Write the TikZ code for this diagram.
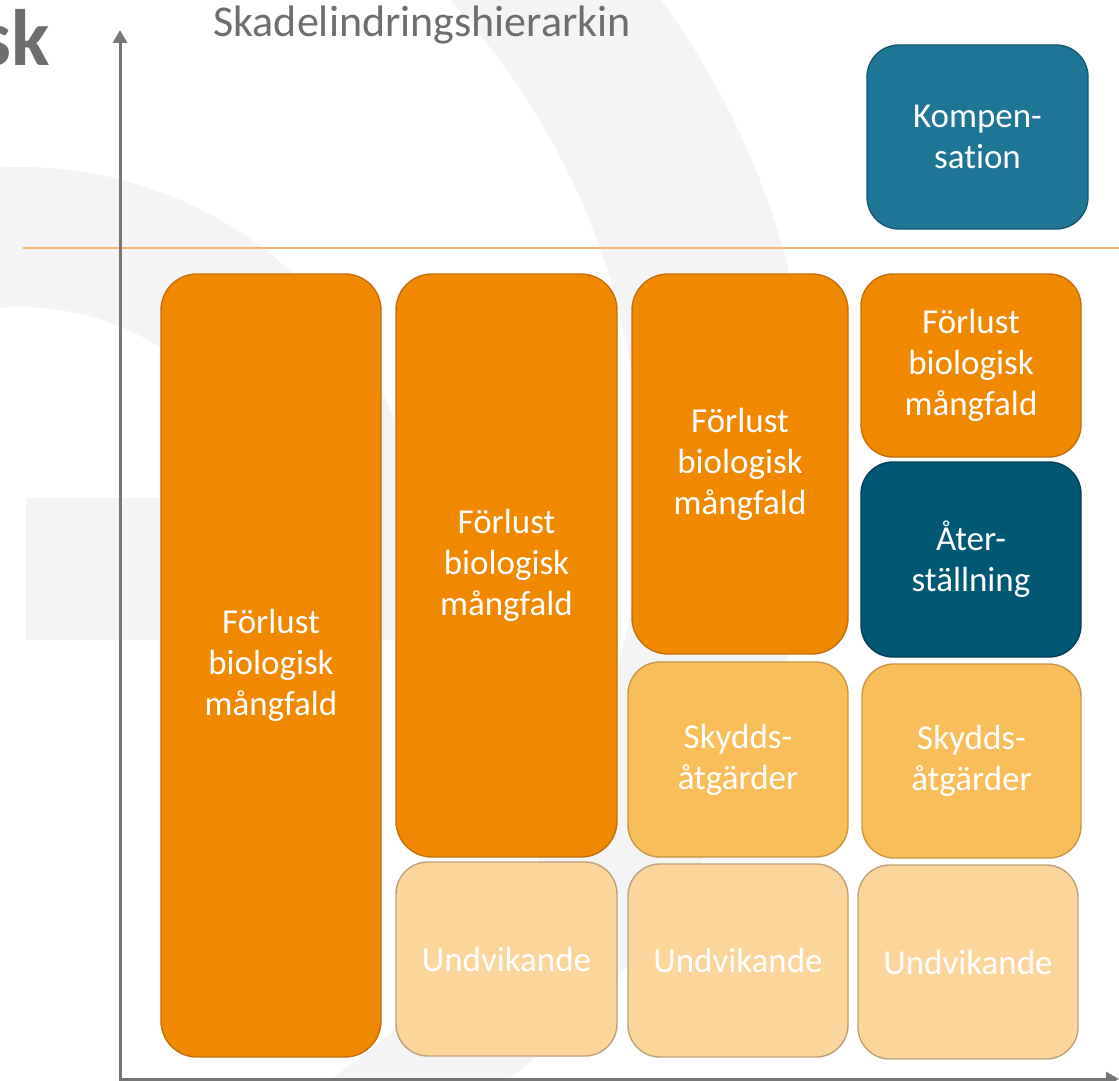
\documentclass[tikz,border=0pt]{standalone}
\usepackage{fontspec}
\setmainfont{Carlito}[Ligatures={NoCommon}]
\usetikzlibrary{arrows.meta}

\definecolor{lossfill}{RGB}{240,136,0}
\definecolor{lossline}{RGB}{196,112,10}
\definecolor{protfill}{RGB}{249,190,90}
\definecolor{protline}{RGB}{200,150,70}
\definecolor{avoidfill}{RGB}{252,213,155}
\definecolor{avoidline}{RGB}{190,160,122}
\definecolor{compfill}{RGB}{31,117,150}
\definecolor{compline}{RGB}{22,88,115}
\definecolor{restfill}{RGB}{0,88,116}
\definecolor{restline}{RGB}{0,64,88}
\definecolor{axisgrey}{RGB}{118,118,118}
\definecolor{textgrey}{RGB}{110,110,110}
\definecolor{divline}{RGB}{247,180,107}
\definecolor{wmgrey}{RGB}{244,244,244}

\tikzset{
  box/.style={draw, rectangle, rounded corners=16pt, line width=0.7pt, text=white,
    align=center, inner sep=0pt, font=\fontsize{17.5}{20.5}\selectfont},
  size/.style 2 args={minimum width=#1, minimum height=#2},
  loss/.style={box, fill=lossfill, draw=lossline, rounded corners=18pt},
  prot/.style={box, fill=protfill, draw=protline},
  avoid/.style={box, fill=avoidfill, draw=avoidline},
  comp/.style={box, fill=compfill, draw=compline},
  rest/.style={box, fill=restfill, draw=restline},
  axis/.style={draw=axisgrey, line width=1.5pt,
    {Triangle[width=7pt,length=6.5pt]}-{Triangle[width=7pt,length=6.5pt]}},
  divider/.style={draw=divline, line width=1pt},
}

\begin{document}
\begin{tikzpicture}[x=0.5pt, y=-0.5pt]
  \useasboundingbox (0,0) rectangle (1119,1081);

  \begin{scope}
    \clip (0,0) rectangle (1119,1081);
    \fill[wmgrey, even odd rule]
      (33.5,462) circle[radius=389.5pt]
      (-77,488) circle[radius=359pt];
    \fill[wmgrey]
      (424,571) arc[start angle=0, end angle=180, radius=202pt]
      -- (-244,571) arc[start angle=180, end angle=0, radius=132pt] -- cycle;
    \fill[wmgrey] (26,498) rectangle (500,640);
  \end{scope}

  \node[anchor=base east, inner sep=0pt, text=textgrey,
    font=\fontsize{40}{40}\selectfont\bfseries] (sk) at (50,66) {sk};
  \node[anchor=base west, inner sep=0pt, text=textgrey,
    font=\fontsize{22}{26}\selectfont] (title) at (213,37) {Skadelindringshierarkin};

  \coordinate (divl) at (23,248);
  \coordinate (divr) at (1119,248);
  \draw[divider] (divl) -- (divr);

  \coordinate (ytop) at (120,30);
  \coordinate (xend) at (1119,1079);
  \draw[axis] (ytop) |- (xend);

  \node[loss, size={110pt}{391.5pt}] (loss1) at (271,665.5) {Förlust\\biologisk\\mångfald};

  \node[loss, size={110.5pt}{291.5pt}] (loss2) at (506.5,565.5) {Förlust\\biologisk\\mångfald};
  \node[avoid, size={110.5pt}{97pt}] (avoid2) at (506.5,959) {Undvikande};

  \node[loss, size={108pt}{190pt}] (loss3) at (740,464) {Förlust\\biologisk\\mångfald};
  \node[prot, size={110pt}{97.5pt}] (prot3) at (738,759.5) {Skydds-\\åtgärder};
  \node[avoid, size={110pt}{96.5pt}] (avoid3) at (738,960.5) {Undvikande};

  \node[comp, size={110.5pt}{92pt}] (comp4) at (977.5,137) {Kompen-\\sation};
  \node[loss, size={110pt}{91.5pt}, rounded corners=16pt] (loss4) at (971,365.5) {Förlust\\biologisk\\mångfald};
  \node[rest, size={110pt}{97.5pt}] (rest4) at (971,559.5) {Åter-\\ställning};
  \node[prot, size={109.5pt}{97pt}] (prot4) at (971.5,761) {Skydds-\\åtgärder};
  \node[avoid, size={110pt}{97pt}] (avoid4) at (968,962) {Undvikande};
\end{tikzpicture}
\end{document}
